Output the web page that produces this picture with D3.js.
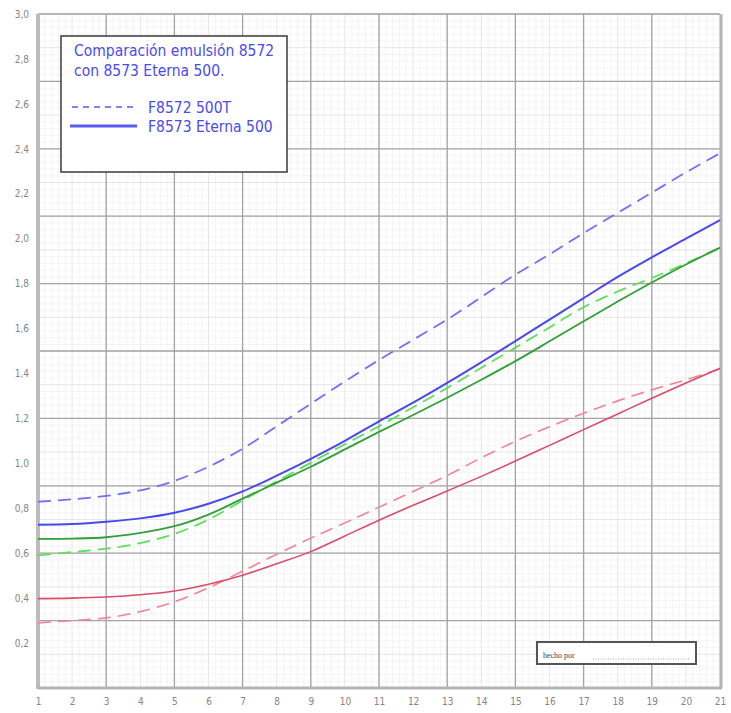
<!DOCTYPE html>
<html>
<head>
<meta charset="utf-8">
<script src="https://cdn.jsdelivr.net/npm/d3@7"></script>
<style>
html,body{margin:0;padding:0;background:#fff;}
svg{display:block;}
</style>
</head>
<body>
<svg id="chart" width="731" height="713"></svg>
<script>
// ---- data ----
const steps = d3.range(1, 22); // 1..21
const xTicks = d3.range(1, 22);
const yTicks = [0.2,0.4,0.6,0.8,1.0,1.2,1.4,1.6,1.8,2.0,2.2,2.4,2.6,2.8,3.0];
const yTickLabels = ["0,2","0,4","0,6","0,8","1,0","1,2","1,4","1,6","1,8","2,0","2,2","2,4","2,6","2,8","3,0"];

const blueDashed  = [0.829,0.84,0.855,0.88,0.922,0.985,1.065,1.165,1.265,1.365,1.46,1.55,1.64,1.74,1.84,1.93,2.025,2.115,2.205,2.295,2.38];
const blueSolid   = [0.727,0.73,0.74,0.755,0.78,0.82,0.875,0.945,1.02,1.10,1.187,1.27,1.358,1.45,1.544,1.64,1.735,1.83,1.917,2.00,2.083];
const greenDashed = [0.59,0.605,0.62,0.645,0.686,0.75,0.835,0.92,1.003,1.085,1.165,1.25,1.335,1.425,1.515,1.605,1.695,1.765,1.825,1.89,1.96];
const greenSolid  = [0.664,0.665,0.671,0.69,0.72,0.772,0.843,0.914,0.985,1.062,1.14,1.215,1.292,1.372,1.455,1.543,1.632,1.72,1.805,1.885,1.96];
const redDashed   = [0.29,0.30,0.312,0.34,0.384,0.446,0.52,0.595,0.667,0.735,0.805,0.875,0.946,1.025,1.098,1.163,1.223,1.278,1.327,1.372,1.42];
const redSolid    = [0.398,0.40,0.405,0.415,0.432,0.462,0.502,0.553,0.607,0.677,0.747,0.813,0.877,0.942,1.01,1.08,1.15,1.22,1.29,1.358,1.423];

const legendTitle = ["Comparación emulsión 8572","con 8573 Eterna 500."];
const legendLabels = ["F8572 500T","F8573 Eterna 500"];
const footerText = "hecho por";

// ---- layout ----
const svg = d3.select("#chart");
const L = 38, R = 720, T = 14, B = 688;
const x = d3.scaleLinear().domain([1,21]).range([L,R]);
const y = d3.scaleLinear().domain([0,3]).range([B,T]);

// graph paper grid
const gGrid = svg.append("g");
const vMinor = d3.range(0, 101).map(i => 1 + i*0.2);
const hMinor = d3.range(0, 101).map(i => i*0.03);
gGrid.selectAll(".vmin").data(vMinor).join("line")
  .attr("x1", d=>x(d)).attr("x2", d=>x(d)).attr("y1", T).attr("y2", B)
  .attr("stroke", (d,i)=> i%5===0 ? "#e0e0e0" : "#f1f1f1").attr("stroke-width", 0.8);
gGrid.selectAll(".hmin").data(hMinor).join("line")
  .attr("y1", d=>y(d)).attr("y2", d=>y(d)).attr("x1", L).attr("x2", R)
  .attr("stroke", (d,i)=> i%5===0 ? "#e0e0e0" : "#f1f1f1").attr("stroke-width", 0.8);
const vMajor = d3.range(3, 21, 2);
const hMajor = d3.range(1, 10).map(i => i*0.3);
gGrid.selectAll(".vmaj").data(vMajor).join("line")
  .attr("x1", d=>x(d)).attr("x2", d=>x(d)).attr("y1", T).attr("y2", B)
  .attr("stroke", "#a4a4a4").attr("stroke-width", 1.3);
gGrid.selectAll(".hmaj").data(hMajor).join("line")
  .attr("y1", d=>y(d)).attr("y2", d=>y(d)).attr("x1", L).attr("x2", R)
  .attr("stroke", "#a4a4a4").attr("stroke-width", 1.3);

// frame
svg.append("line").attr("x1", L).attr("x2", R).attr("y1", T).attr("y2", T).attr("stroke", "#a0a0a0").attr("stroke-width", 1.5);
svg.append("line").attr("x1", R+1).attr("x2", R+1).attr("y1", T).attr("y2", B).attr("stroke", "#b4b4b4").attr("stroke-width", 3);
svg.append("line").attr("x1", L).attr("x2", L).attr("y1", T).attr("y2", B+1).attr("stroke", "#bcbcbc").attr("stroke-width", 4);
svg.append("line").attr("x1", L).attr("x2", R+2).attr("y1", B).attr("y2", B).attr("stroke", "#b4b4b4").attr("stroke-width", 3);

// axis labels
const yAxis = d3.axisLeft(y).tickValues(yTicks).tickSize(0)
  .tickFormat((d,i)=>yTickLabels[i]);
const gy = svg.append("g").attr("transform", `translate(${L-6},0)`).call(yAxis);
gy.select(".domain").remove();
gy.selectAll("text").attr("fill", "#858585").attr("font-family", "DejaVu Sans Condensed, DejaVu Sans, sans-serif").attr("font-size", 10);

const xAxis = d3.axisBottom(x).tickValues(xTicks).tickSize(0).tickFormat(d=>String(d));
const gx = svg.append("g").attr("transform", `translate(0,${B+7})`).call(xAxis);
gx.select(".domain").remove();
gx.selectAll("text").attr("fill", "#858585").attr("font-family", "DejaVu Sans Condensed, DejaVu Sans, sans-serif").attr("font-size", 10);

// series
const series = [
  {v: blueDashed,  color: "#7070f8", dash: "13,7", w: 1.8},
  {v: greenDashed, color: "#5ce05c", dash: "13,7", w: 1.8},
  {v: redDashed,   color: "#f28298", dash: "13,7", w: 1.6},
  {v: blueSolid,   color: "#4848f0", dash: null, w: 2.0},
  {v: greenSolid,  color: "#30a038", dash: null, w: 1.8},
  {v: redSolid,    color: "#dc4c68", dash: null, w: 1.6}
];
const line = d3.line().x((d,i)=>x(steps[i])).y(d=>y(d)).curve(d3.curveCatmullRom.alpha(0.5));
svg.append("g").selectAll("path").data(series).join("path")
  .attr("d", d=>line(d.v)).attr("fill", "none")
  .attr("stroke", d=>d.color).attr("stroke-width", d=>d.w)
  .attr("stroke-dasharray", d=>d.dash);

// legend box
const lg = svg.append("g");
lg.append("rect").attr("x", 61).attr("y", 36).attr("width", 226).attr("height", 136)
  .attr("fill", "#fff").attr("stroke", "#3a3a3a").attr("stroke-width", 1.5);
lg.selectAll(".tt").data(legendTitle).join("text")
  .attr("x", 74).attr("y", (d,i)=>56 + i*20)
  .attr("fill", "#4a4af2").attr("font-family", "DejaVu Sans Condensed, DejaVu Sans, sans-serif")
  .attr("font-size", 15.5).text(d=>d);
lg.append("line").attr("x1", 72).attr("x2", 137).attr("y1", 107).attr("y2", 107)
  .attr("stroke", "#5a5af4").attr("stroke-width", 1.6).attr("stroke-dasharray", "6,5");
lg.append("line").attr("x1", 70).attr("x2", 137).attr("y1", 126).attr("y2", 126)
  .attr("stroke", "#5a5af4").attr("stroke-width", 3);
lg.selectAll(".li").data(legendLabels).join("text")
  .attr("x", 148).attr("y", (d,i)=>112.5 + i*19)
  .attr("fill", "#4a4af2").attr("font-family", "DejaVu Sans Condensed, DejaVu Sans, sans-serif")
  .attr("font-size", 15.5).text(d=>d);

// footer box
const fb = svg.append("g");
fb.append("rect").attr("x", 537).attr("y", 642).attr("width", 159).attr("height", 22)
  .attr("fill", "#fff").attr("stroke", "#555").attr("stroke-width", 2);
fb.append("text").attr("x", 543).attr("y", 658).attr("font-family", "Liberation Serif, serif")
  .attr("font-size", 8).attr("fill", "#444").text(footerText);
fb.append("line").attr("x1", 593).attr("x2", 690).attr("y1", 659).attr("y2", 659)
  .attr("stroke", "#999").attr("stroke-width", 0.8).attr("stroke-dasharray", "1,1.5");
</script>
</body>
</html>
